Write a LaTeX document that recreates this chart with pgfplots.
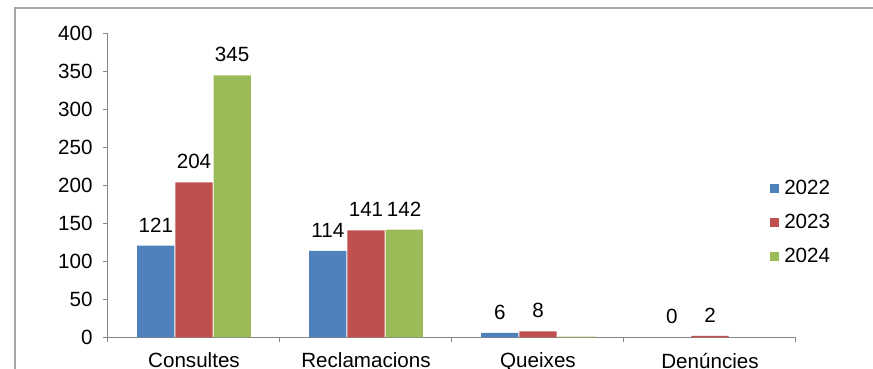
\documentclass[border=0pt]{standalone}
\usepackage{fontspec}
\setmainfont{Liberation Sans}
\usepackage{pgfplots}
\pgfplotsset{compat=1.18}
\definecolor{cA}{HTML}{4F81BD}
\definecolor{cB}{HTML}{C0504D}
\definecolor{cC}{HTML}{9BBB59}
\definecolor{axgray}{HTML}{868686}
\definecolor{framegray}{HTML}{A6A6A6}
\begin{document}
\fontsize{10.3}{12}\selectfont
\begin{tikzpicture}
\draw[framegray, line width=0.6pt] (7.5pt,-5pt) -- (7.5pt,180.5pt) -- (445pt,180.5pt);
\begin{axis}[
  at={(54pt,15.75pt)}, anchor=south west,
  scale only axis, width=344pt, height=152pt,
  xmin=-0.5, xmax=3.5, ymin=0, ymax=400,
  axis lines*=left,
  axis line style={axgray, line width=0.5pt},
  tick style={axgray, line width=0.5pt},
  tick align=outside,
  xtick={0,1,2,3},
  xticklabels={Consultes, Reclamacions, Queixes, Denúncies},
  major x tick style={draw=none},
  minor xtick={-0.5,0.5,1.5,2.5,3.5},
  minor tick length=2.5pt,
  major tick length=2.5pt,
  ytick={0,50,...,400},
  /pgf/number format/assume math mode=true,
  ticklabel style={font=\fontsize{10.3}{12}\selectfont, text=black},
  yticklabel style={inner sep=0pt, xshift=-5pt},
  xticklabel style={inner sep=0pt, yshift=-5pt},
  clip=false,
  ybar, bar width=0.216,
  every axis plot/.append style={draw=none},
  point meta=explicit symbolic,
  nodes near coords,
  every node near coord/.append style={font=\fontsize{10.3}{12}\selectfont, text=black, anchor=south, inner sep=0pt, yshift=6.5pt},
  legend style={at={(0.962,0.377)}, anchor=west, draw=none, fill=none, inner sep=0pt, row sep=8.3pt, column sep=2.5pt, font=\fontsize{10.3}{12}\selectfont, nodes={inner sep=0pt}},
  legend cell align=left,
  legend image code/.code={\path[#1, draw=none] (0pt,-2.25pt) rectangle (4.5pt,2.25pt);},
]
\addplot[fill=cA, bar shift=-0.222] coordinates {(0,121)[121] (1,114)[114] (2,6)[6] (3,0)[0]};
\addplot[fill=cB, bar shift=0] coordinates {(0,204)[204] (1,141)[141] (2,8)[8] (3,2)[2]};
\addplot[fill=cC, bar shift=0.222] coordinates {(0,345)[345] (1,142)[142] (2,1)[] (3,0)[]};
\legend{2022,2023,2024}
\end{axis}
\pgfresetboundingbox
\path[use as bounding box] (0pt,0pt) rectangle (436.5pt,184.5pt);
\end{tikzpicture}
\end{document}
